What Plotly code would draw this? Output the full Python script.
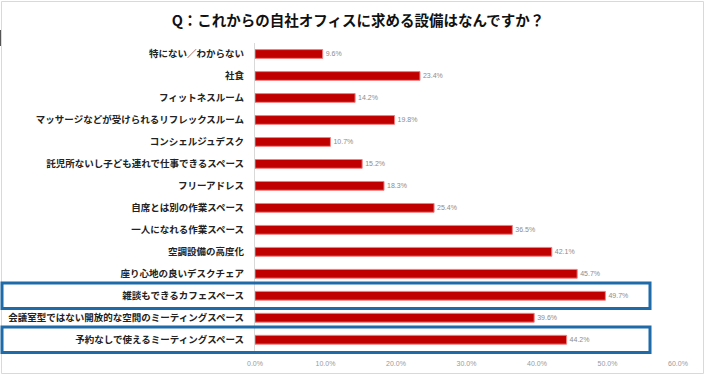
import plotly.graph_objects as go

categories = [
    "特にない／わからない",
    "社食",
    "フィットネスルーム",
    "マッサージなどが受けられるリフレックスルーム",
    "コンシェルジュデスク",
    "託児所ないし子ども連れで仕事できるスペース",
    "フリーアドレス",
    "自席とは別の作業スペース",
    "一人になれる作業スペース",
    "空調設備の高度化",
    "座り心地の良いデスクチェア",
    "雑談もできるカフェスペース",
    "会議室型ではない開放的な空間のミーティングスペース",
    "予約なしで使えるミーティングスペース",
]
values = [9.6, 23.4, 14.2, 19.8, 10.7, 15.2, 18.3, 25.4, 36.5, 42.1, 45.7, 49.7, 39.6, 44.2]
highlighted = ["雑談もできるカフェスペース", "予約なしで使えるミーティングスペース"]
tick_vals = [0, 10, 20, 30, 40, 50, 60]
tick_text = ["0.0%", "10.0%", "20.0%", "30.0%", "40.0%", "50.0%", "60.0%"]
title = "Q：これからの自社オフィスに求める設備はなんですか？"

W, H = 706, 376
ML, MR, MT, MB = 255, 28, 43, 22
pw = W - ML - MR
ph = H - MT - MB

fig = go.Figure()
fig.add_trace(go.Bar(
    x=values, y=categories, orientation="h",
    marker=dict(color="#c00000", line=dict(color="#f08080", width=1)),
    text=[f"{v:.1f}%" for v in values],
    textposition="outside",
    textfont=dict(size=7, color="#8c8c8c", family="Liberation Sans"),
    cliponaxis=False,
    width=0.4,
    hoverinfo="skip",
))

def px_x(p):
    return (p - ML) / pw

def px_y(p):
    return 1 - (p - MT) / ph

shapes = []
for name in highlighted:
    i = categories.index(name)
    shapes.append(dict(
        type="rect", xref="paper", yref="y",
        x0=px_x(2), x1=px_x(650), y0=i - 0.58, y1=i + 0.58,
        line=dict(color="#1f6aa8", width=3), fillcolor="rgba(0,0,0,0)", layer="above",
    ))
# outer frame
shapes.append(dict(
    type="rect", xref="paper", yref="paper",
    x0=px_x(1.5), x1=px_x(703.5), y0=px_y(373.5), y1=px_y(1.5),
    line=dict(color="#d9d9d9", width=1), fillcolor="rgba(0,0,0,0)", layer="below",
))
shapes.append(dict(
    type="line", xref="paper", yref="paper",
    x0=px_x(0.5), x1=px_x(0.5), y0=px_y(30), y1=px_y(46),
    line=dict(color="#555555", width=1),
))

fig.update_layout(
    width=W, height=H,
    margin=dict(l=ML, r=MR, t=MT, b=MB, autoexpand=False),
    paper_bgcolor="white", plot_bgcolor="white",
    showlegend=False,
    hovermode=False,
    title=dict(text=title, x=358 / W, xref="container", xanchor="center", y=1 - 21 / H, yanchor="middle",
               font=dict(size=14.5, color="#111111", family="Noto Sans CJK JP", weight="bold")),
    xaxis=dict(range=[0, 60], tickvals=tick_vals, ticktext=tick_text, showgrid=False,
               zeroline=False, showline=False, ticks="", automargin=False,
               tickfont=dict(size=7, color="#9a9a9a", family="Liberation Sans"),
               ticklabelstandoff=4),
    yaxis=dict(categoryorder="array", categoryarray=categories, autorange="reversed",
               showgrid=False, zeroline=False, showline=True, linecolor="#d9d9d9", linewidth=1,
               ticks="", ticklabelstandoff=8, automargin=False,
               tickfont=dict(size=9.5, color="#222222", family="Noto Sans CJK JP", weight="bold")),
    shapes=shapes,
    bargap=0.6,
)

fig.write_html("out.html", config={"displayModeBar": False, "staticPlot": True},
               post_script="document.body.style.margin='0';")
